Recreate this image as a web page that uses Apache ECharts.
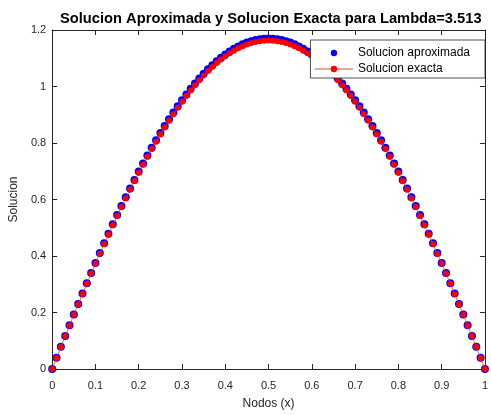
<!DOCTYPE html>
<html>
<head>
<meta charset="utf-8">
<script src="https://cdn.jsdelivr.net/npm/echarts@6/dist/echarts.min.js"></script>
<style>html,body{margin:0;padding:0;background:#fff;}#c{width:491px;height:415px;}</style>
</head>
<body>
<div id="c"></div>
<script>
const xNodes = [0,0.01,0.02,0.03,0.04,0.05,0.06,0.07,0.08,0.09,0.10,0.11,0.12,0.13,0.14,0.15,0.16,0.17,0.18,0.19,0.20,0.21,0.22,0.23,0.24,0.25,0.26,0.27,0.28,0.29,0.30,0.31,0.32,0.33,0.34,0.35,0.36,0.37,0.38,0.39,0.40,0.41,0.42,0.43,0.44,0.45,0.46,0.47,0.48,0.49,0.50,0.51,0.52,0.53,0.54,0.55,0.56,0.57,0.58,0.59,0.60,0.61,0.62,0.63,0.64,0.65,0.66,0.67,0.68,0.69,0.70,0.71,0.72,0.73,0.74,0.75,0.76,0.77,0.78,0.79,0.80,0.81,0.82,0.83,0.84,0.85,0.86,0.87,0.88,0.89,0.90,0.91,0.92,0.93,0.94,0.95,0.96,0.97,0.98,0.99,1.00];
const approxSol = [0,0.0395,0.0786,0.1171,0.1553,0.1932,0.2305,0.2674,0.3039,0.3398,0.3753,0.4103,0.4448,0.4787,0.5120,0.5447,0.5768,0.6083,0.6392,0.6694,0.6989,0.7276,0.7557,0.7831,0.8095,0.8353,0.8602,0.8844,0.9076,0.9300,0.9516,0.9721,0.9918,1.0105,1.0282,1.0450,1.0608,1.0755,1.0893,1.1020,1.1136,1.1241,1.1337,1.1420,1.1494,1.1555,1.1605,1.1645,1.1674,1.1690,1.1696,
  1.1690,1.1674,1.1645,1.1605,1.1555,1.1494,1.1420,1.1337,1.1241,1.1136,1.1020,1.0893,1.0755,1.0608,1.0450,1.0282,1.0105,0.9918,0.9721,0.9516,0.9300,0.9076,0.8844,0.8602,0.8353,0.8095,0.7831,0.7557,0.7276,0.6989,0.6694,0.6392,0.6083,0.5768,0.5447,0.5120,0.4787,0.4448,0.4103,0.3753,0.3398,0.3039,0.2674,0.2305,0.1932,0.1553,0.1171,0.0786,0.0395,0];
const exactSol = [0,0.0393,0.0781,0.1164,0.1544,0.1920,0.2291,0.2658,0.3021,0.3378,0.3731,0.4079,0.4421,0.4758,0.5089,0.5414,0.5734,0.6047,0.6354,0.6654,0.6947,0.7233,0.7512,0.7784,0.8047,0.8303,0.8551,0.8791,0.9022,0.9245,0.9459,0.9663,0.9859,1.0045,1.0221,1.0388,1.0545,1.0691,1.0828,1.0954,1.1070,1.1174,1.1269,1.1352,1.1425,1.1486,1.1536,1.1576,1.1604,1.1620,1.1626,
  1.1620,1.1604,1.1576,1.1536,1.1486,1.1425,1.1352,1.1269,1.1174,1.1070,1.0954,1.0828,1.0691,1.0545,1.0388,1.0221,1.0045,0.9859,0.9663,0.9459,0.9245,0.9022,0.8791,0.8551,0.8303,0.8047,0.7784,0.7512,0.7233,0.6947,0.6654,0.6354,0.6047,0.5734,0.5414,0.5089,0.4758,0.4421,0.4079,0.3731,0.3378,0.3021,0.2658,0.2291,0.1920,0.1544,0.1164,0.0781,0.0393,0];
const xTicks = [0,0.1,0.2,0.3,0.4,0.5,0.6,0.7,0.8,0.9,1];
const yTicks = [0,0.2,0.4,0.6,0.8,1,1.2];
const titleText = 'Solucion Aproximada y Solucion Exacta para Lambda=3.513';
const seriesNames = ['Solucion aproximada','Solucion exacta'];

const FONT = '"Liberation Sans", Arial, Helvetica, sans-serif';
const AX = '#262626';
const chart = echarts.init(document.getElementById('c'), null, {renderer:'canvas'});
const fmt = v => (Math.abs(v) < 1e-9 ? '0' : String(+v.toFixed(1)));
const baseX = {
  type:'value', min:0, max:1, interval:0.1,
  axisLine:{show:true, onZero:false, lineStyle:{color:AX, width:1}},
  axisTick:{show:true, inside:true, length:5, lineStyle:{color:AX}},
  splitLine:{show:false}
};
const baseY = {
  type:'value', min:0, max:1.2, interval:0.2,
  axisLine:{show:true, onZero:false, lineStyle:{color:AX, width:1}},
  axisTick:{show:true, inside:true, length:5, lineStyle:{color:AX}},
  splitLine:{show:false}
};
chart.setOption({
  animation:false,
  backgroundColor:'#ffffff',
  title:{text:titleText, left:55, top:6,
    textStyle:{fontFamily:FONT, fontSize:14.7, fontWeight:'bold', color:'#000'}},
  grid:{left:52, right:3, top:30, bottom:44},
  legend:{
    right:6, top:40, orient:'vertical',
    data:seriesNames,
    itemWidth:38, itemHeight:8, itemGap:4,
    backgroundColor:'#fff', borderColor:'#262626', borderWidth:0.8,
    padding:[7,15,3,4],
    lineStyle:{width:1},
    textStyle:{fontFamily:FONT, fontSize:12, color:'#000'}
  },
  xAxis:[
    Object.assign({}, baseX, {position:'bottom', name:'Nodos (x)', nameLocation:'middle', nameGap:29,
      nameTextStyle:{fontFamily:FONT, fontSize:12, color:AX},
      axisLabel:{show:true, margin:11, fontFamily:FONT, fontSize:11, color:AX, formatter:fmt}}),
    Object.assign({}, baseX, {position:'top', axisLabel:{show:false}})
  ],
  yAxis:[
    Object.assign({}, baseY, {position:'left', name:'Solucion', nameLocation:'middle', nameGap:31,
      nameTextStyle:{fontFamily:FONT, fontSize:12, color:AX},
      axisLabel:{show:true, margin:6, fontFamily:FONT, fontSize:11, color:AX, formatter:fmt}}),
    Object.assign({}, baseY, {position:'right', axisLabel:{show:false}})
  ],
  series:[
    {
      name:seriesNames[0], type:'line', xAxisIndex:0, yAxisIndex:0,
      data: xNodes.map((x,i)=>[x, approxSol[i]]),
      symbol:'circle', symbolSize:8, showSymbol:true,
      lineStyle:{width:0, opacity:0},
      itemStyle:{color:'#0000ff', borderWidth:0},
      clip:false, z:2
    },
    {
      name:seriesNames[1], type:'line', xAxisIndex:0, yAxisIndex:0,
      data: xNodes.map((x,i)=>[x, exactSol[i]]),
      symbol:'circle', symbolSize:6, showSymbol:true,
      lineStyle:{width:0.8, color:'#D95319'},
      itemStyle:{color:'#ff0000', borderWidth:0},
      clip:false, z:3
    }
  ]
});
</script>
</body>
</html>
